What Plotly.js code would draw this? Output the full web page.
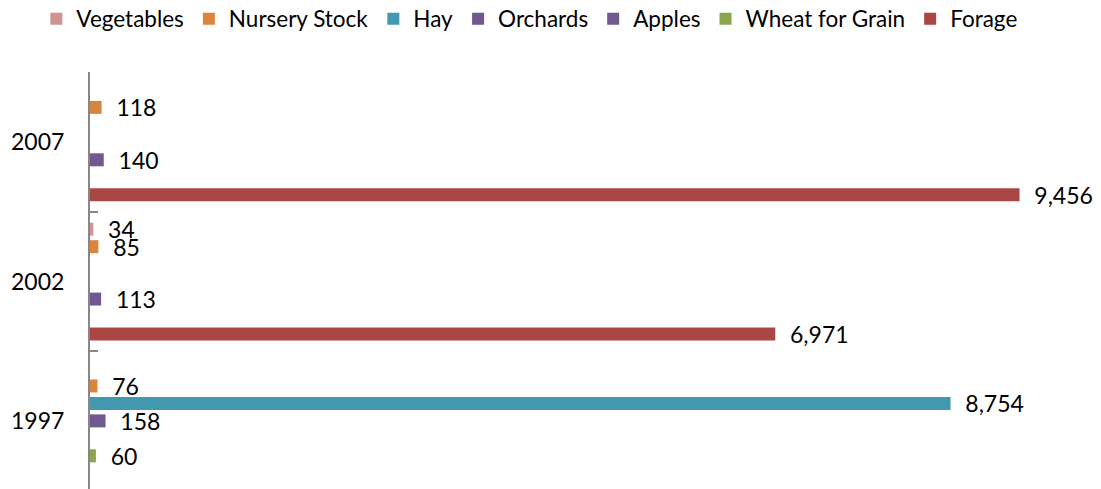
<!DOCTYPE html>
<html>
<head>
<meta charset="utf-8">
<script src="https://cdn.plot.ly/plotly-3.0.1.min.js"></script>
<style>html,body{margin:0;padding:0;background:#fff;}#chart{width:1101px;height:489px;}</style>
</head>
<body>
<div id="chart"></div>
<script>
const categories = ['2007', '2002', '1997'];
const seriesNames = ['Vegetables', 'Nursery Stock', 'Hay', 'Orchards', 'Apples', 'Wheat for Grain', 'Forage'];
const vegetables = [null, 34, null];
const nurseryStock = [118, 85, 76];
const hay = [null, null, 8754];
const orchards = [null, null, 158];
const apples = [140, 113, null];
const wheatForGrain = [null, null, 60];
const forage = [9456, 6971, null];
const colors = ['#D19392', '#DB843D', '#4198AF', '#71588F', '#71588F', '#89A54E', '#AA4643'];

const seriesValues = [vegetables, nurseryStock, hay, orchards, apples, wheatForGrain, forage];
const FONT = 'Lato, "Open Sans", sans-serif';

const traces = seriesValues.map((vals, i) => ({
  type: 'bar',
  orientation: 'h',
  name: seriesNames[i],
  y: categories,
  x: vals,
  marker: {color: colors[i]},
  texttemplate: '\u00a0\u00a0%{x:,}',
  textposition: 'outside',
  constraintext: 'none',
  cliponaxis: false,
  textfont: {family: FONT, size: 23, color: '#000'},
  hoverinfo: 'name+x'
}));

const layout = {
  width: 1101,
  height: 489,
  margin: {l: 90, r: 28, t: 72, b: 0, pad: 0},
  paper_bgcolor: '#fff',
  plot_bgcolor: '#fff',
  barmode: 'group',
  bargap: 0.122,
  bargroupgap: 0.257,
  font: {family: FONT, size: 22, color: '#000'},
  showlegend: true,
  legend: {
    orientation: 'h',
    xref: 'container', yref: 'container',
    x: 0.033, y: 0.961,
    xanchor: 'left', yanchor: 'middle',
    font: {family: FONT, size: 22.5, color: '#000'},
    traceorder: 'normal'
  },
  xaxis: {
    range: [0, 10000],
    visible: false,
    showgrid: false,
    zeroline: false
  },
  yaxis: {
    type: 'category',
    categoryorder: 'array',
    categoryarray: categories,
    range: [2.489, -0.505],
    showline: true,
    linecolor: '#878787',
    linewidth: 2,
    ticks: 'inside',
    tickson: 'boundaries',
    ticklen: 8,
    tickwidth: 2,
    tickcolor: '#878787',
    ticklabelstandoff: 19,
    tickfont: {family: FONT, size: 23, color: '#000'},
    showgrid: false,
    zeroline: false
  }
};

Plotly.newPlot('chart', traces, layout, {displayModeBar: false, staticPlot: true});
</script>
</body>
</html>
